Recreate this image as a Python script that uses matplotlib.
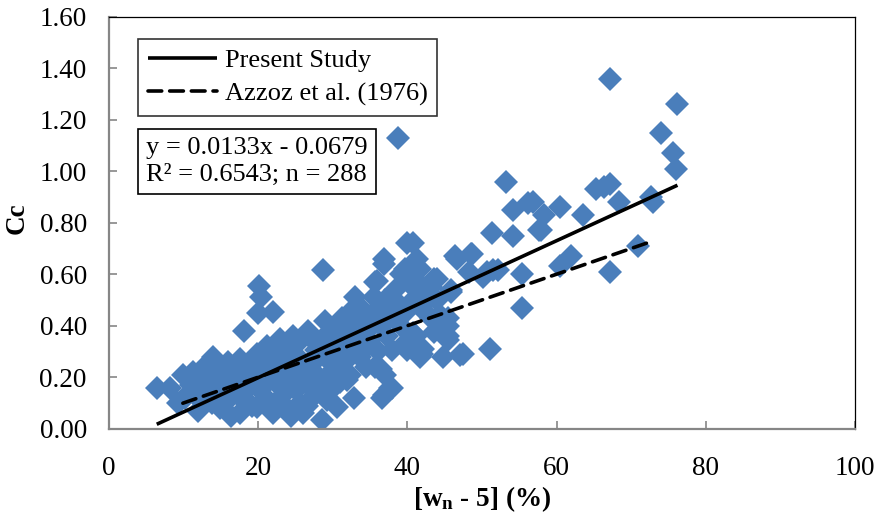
import matplotlib
matplotlib.use("Agg")
import matplotlib.pyplot as plt
import numpy as np

plt.rcParams['font.family'] = ['Liberation Serif', 'DejaVu Serif']
plt.rcParams['mathtext.fontset'] = 'custom'
plt.rcParams['mathtext.rm'] = 'Liberation Serif'
plt.rcParams['mathtext.bf'] = 'Liberation Serif:bold'
plt.rcParams['mathtext.it'] = 'Liberation Serif:italic'

# ---- data ----
pts = [
    # x 6-12
    (6.4,0.16),(8.2,0.16),(9.3,0.10),(9.9,0.21),(10.5,0.13),(11.0,0.17),(11.5,0.19),(11.9,0.07),
    (12.2,0.11),(12.0,0.15),(10.2,0.12),(11.3,0.22),
    # x 12-20
    (12.6,0.23),(13.0,0.18),(13.4,0.13),(13.8,0.10),(14.0,0.28),(14.3,0.21),(14.6,0.16),(14.9,0.08),
    (15.2,0.15),(15.3,0.235),(15.7,0.19),(16.0,0.26),(16.2,0.12),(16.5,0.22),(16.8,0.17),(17.2,0.23),
    (17.6,0.27),(17.6,0.06),(17.9,0.14),(18.0,0.11),(18.1,0.38),(18.3,0.20),(18.6,0.25),(18.9,0.18),
    (19.2,0.09),(19.5,0.22),(19.9,0.29),(19.9,0.085),(13.2,0.25),(15.0,0.11),(16.4,0.05),(17.0,0.20),
    (14.2,0.24),
    # x 20-26
    (20.1,0.555),(20.4,0.51),(20.0,0.45),(20.3,0.15),(20.5,0.19),(20.8,0.25),(21.0,0.12),(21.2,0.32),
    (21.6,0.10),(21.5,0.21),(22.0,0.06),(22.0,0.455),(22.3,0.27),(22.5,0.32),(22.7,0.17),(23.0,0.23),
    (23.2,0.255),(23.3,0.13),(23.6,0.30),(23.8,0.08),(24.0,0.23),(24.3,0.19),(24.6,0.36),(24.8,0.27),
    (25.0,0.15),(25.2,0.33),(25.4,0.28),(25.6,0.10),(25.8,0.21),(26.0,0.06),(26.3,0.18),(26.5,0.24),
    (21.8,0.29),(22.9,0.35),(24.4,0.05),
    # x 26-33
    (26.6,0.09),(26.7,0.38),(27.2,0.35),(27.2,0.12),(27.7,0.305),(28.1,0.20),(28.3,0.19),(28.6,0.035),
    (28.7,0.615),(29.0,0.42),(29.4,0.37),(29.4,0.265),(29.8,0.15),(30.0,0.33),(30.2,0.23),(30.6,0.085),
    (30.6,0.20),(30.7,0.395),(31.0,0.18),(31.3,0.305),(31.3,0.43),(31.6,0.26),(31.9,0.19),(32.3,0.21),
    (32.6,0.33),(32.8,0.12),(32.8,0.47),(33.0,0.51),(27.5,0.26),(28.0,0.29),(28.8,0.33),(29.2,0.11),
    (30.0,0.28),(31.0,0.36),(32.0,0.37),(32.2,0.28),(26.9,0.22),(27.8,0.14),
    # x 33-40
    (33.5,0.42),(33.7,0.28),(34.0,0.38),(34.1,0.46),(34.5,0.24),(34.8,0.34),(35.3,0.43),(35.7,0.24),
    (35.7,0.57),(35.9,0.575),(36.1,0.47),(36.4,0.23),(36.6,0.12),(36.8,0.64),(36.8,0.66),(36.8,0.13),
    (37.0,0.50),(37.0,0.21),(37.3,0.36),(37.7,0.16),(38.0,0.305),(38.0,0.16),(38.4,0.54),(38.6,0.42),
    (38.8,1.13),(39.1,0.60),(39.3,0.395),(39.5,0.33),(39.7,0.62),(40.0,0.305),(40.0,0.72),(40.1,0.57),
    (40.1,0.46),(34.3,0.31),(35.0,0.39),(36.0,0.30),(36.5,0.40),(37.5,0.45),(38.2,0.50),(39.0,0.48),
    (33.3,0.35),(35.5,0.51),
    # x 40-48
    (40.8,0.59),(40.8,0.50),(40.8,0.37),(40.8,0.72),(41.1,0.36),(41.3,0.66),(41.3,0.33),(41.7,0.62),
    (41.7,0.28),(42.0,0.29),(42.1,0.46),(42.1,0.31),(43.1,0.55),(43.1,0.43),(43.5,0.58),(43.5,0.375),
    (44.0,0.58),(44.4,0.44),(44.8,0.28),(45.4,0.36),(45.4,0.40),(45.4,0.43),(45.4,0.345),(45.8,0.53),
    (45.8,0.54),(46.4,0.67),(46.7,0.66),(47.1,0.285),(47.5,0.29),(42.5,0.52),(41.5,0.55),(42.8,0.50),
    (44.0,0.50),
    # x 48+
    (48.2,0.61),(48.5,0.68),(48.7,0.68),(50.2,0.59),(50.7,0.61),(51.1,0.31),(51.4,0.76),(51.5,0.615),
    (52.2,0.615),(53.2,0.957),(54.1,0.75),(54.2,0.85),(55.4,0.60),(55.4,0.47),(56.2,0.875),(56.9,0.88),
    (57.6,0.77),(57.9,0.77),(58.3,0.83),(60.5,0.86),(60.5,0.63),(61.9,0.67),(63.6,0.83),(65.3,0.93),
    (66.3,0.94),(67.2,0.95),(67.2,0.61),(67.2,1.36),(68.3,0.88),(70.9,0.71),(72.6,0.90),(72.9,0.88),
    (74.0,1.15),(75.6,1.07),(76.0,1.01),(76.2,1.26),
]
wn5 = [p[0] for p in pts]
cc = [p[1] for p in pts]

slope, intercept = 0.0133, -0.0679
present_x = [6.4, 76.2]
azzouz_slope = 0.01
azzouz_x = [9.9, 73.0]

xticks = [0, 20, 40, 60, 80, 100]
yticks = [0.0, 0.2, 0.4, 0.6, 0.8, 1.0, 1.2, 1.4, 1.6]

# ---- figure ----
fig = plt.figure(figsize=(8.74, 5.29), dpi=100)
ax = fig.add_axes([109/874, 1-428.7/529, (855-109)/874, (428.7-16.7)/529])

ax.plot(wn5, cc, linestyle='none', marker='D', markersize=12.5,
        color='#4A7EBB', markeredgewidth=0, zorder=2)

px = np.array(present_x)
l1, = ax.plot(px, slope*px + intercept, color='black', lw=2.6, zorder=3,
              label='Present Study', solid_capstyle='butt')
ax_ = np.array(azzouz_x)
l2, = ax.plot(ax_, azzouz_slope*ax_, color='black', lw=2.6, zorder=3,
              linestyle=(0, (3.8, 2.2)), label='Azzoz et al. (1976)', dash_capstyle='round')

ax.set_xlim(0, 100)
ax.set_ylim(0, 1.6)
ax.set_xticks(xticks)
ax.set_xticklabels([f"{v:d}" for v in xticks])
ax.set_yticks(yticks)
ax.set_yticklabels([f"{v:.2f}" for v in yticks])
ax.tick_params(axis='both', direction='in', length=6, width=1.2, color='#868686',
               labelsize=19.5)
ax.tick_params(axis='x', pad=20)
ax.tick_params(axis='y', pad=16)

for s in ['left', 'bottom']:
    ax.spines[s].set_color('#868686')
    ax.spines[s].set_linewidth(1.6)
for s in ['top', 'right']:
    ax.spines[s].set_color('black')
    ax.spines[s].set_linewidth(0.9)

ax.set_xlabel(r'[w$_{\mathbf{n}}$ - 5] (%)', fontsize=19.5, fontweight='bold')
ax.set_ylabel('Cc', fontsize=19.5, fontweight='bold')
ax.xaxis.set_label_coords(0.5, -0.135)
ax.yaxis.set_label_coords(-0.107, 0.511)

leg = ax.legend(handles=[l1, l2], loc='upper left',
                bbox_to_anchor=(138/874, 1-39/529), bbox_transform=fig.transFigure,
                borderaxespad=0, frameon=True, fancybox=False, fontsize=19,
                handlelength=2.6, handletextpad=0.3, borderpad=0.38,
                labelspacing=0.35)
leg.get_frame().set_edgecolor('black')
leg.get_frame().set_linewidth(1.2)

fig.text(146/874, 1-137/529, 'y = 0.0133x - 0.0679\nR² = 0.6543; n = 288',
         fontsize=19, va='top', ha='left', linespacing=1.3,
         bbox=dict(boxstyle='square,pad=0.3', fc='white', ec='black', lw=1.2))

fig.savefig('out.png', dpi=100)
